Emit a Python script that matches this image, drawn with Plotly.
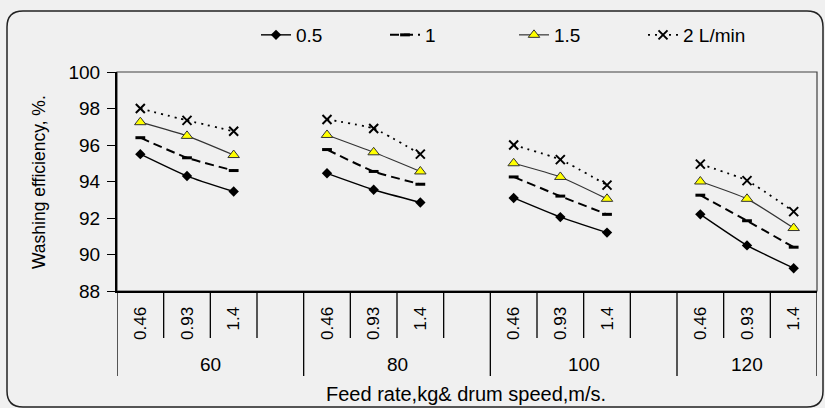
import plotly.graph_objects as go

# ---- data ----
feed_rates = ["60", "80", "100", "120"]
drum_speeds = ["0.46", "0.93", "1.4"]
series_names = ["0.5", "1", "1.5", "2 L/min"]
eff_05 = [95.5, 94.3, 93.45, 94.45, 93.55, 92.85, 93.1, 92.05, 91.2, 92.2, 90.5, 89.25]
eff_10 = [96.4, 95.3, 94.6, 95.75, 94.55, 93.85, 94.25, 93.2, 92.2, 93.25, 91.85, 90.4]
eff_15 = [97.25, 96.5, 95.45, 96.55, 95.6, 94.55, 95.0, 94.25, 93.05, 94.0, 93.05, 91.45]
eff_20 = [98.0, 97.35, 96.75, 97.4, 96.9, 95.5, 96.0, 95.2, 93.8, 94.95, 94.05, 92.35]

# ---- layout helpers ----
W, H = 825, 408
L, R, T, B = 117, 817, 72, 291
slot = len(drum_speeds) + 1
n_slots = len(feed_rates) * slot - 1

def px(x):
    return (x - L) / (R - L)

def py(y):
    return (B - y) / (B - T)

def build(vals):
    xs, ys = [], []
    for gi in range(len(feed_rates)):
        for si in range(len(drum_speeds)):
            xs.append(gi * slot + si)
            ys.append(vals[gi * len(drum_speeds) + si])
        xs.append(None)
        ys.append(None)
    return xs, ys

FONT = "Liberation Sans, Arial, sans-serif"
styles = [
    dict(line=dict(color="black", width=1.4, dash="solid", shape="spline", smoothing=0.5),
         marker=dict(symbol="diamond", size=8, color="black")),
    dict(line=dict(color="black", width=2, dash="9px,5px", shape="spline", smoothing=0.5),
         marker=dict(symbol="line-ew", size=7, color="black", line=dict(color="black", width=3))),
    dict(line=dict(color="#333333", width=1.2, dash="solid", shape="spline", smoothing=0.5),
         marker=dict(symbol="triangle-up", size=10, color="#ffff00", line=dict(color="#333333", width=1))),
    dict(line=dict(color="black", width=1.8, dash="2px,5px", shape="spline", smoothing=0.5),
         marker=dict(symbol="x-thin", size=9, color="black", line=dict(color="black", width=2))),
]

fig = go.Figure()
for name, vals, st in zip(series_names, [eff_05, eff_10, eff_15, eff_20], styles):
    xs, ys = build(vals)
    fig.add_trace(go.Scatter(x=xs, y=ys, mode="lines+markers", name=name,
                             connectgaps=False, line=st["line"], marker=st["marker"]))

tickvals, ticktext = [], []
for gi in range(len(feed_rates)):
    for si, s in enumerate(drum_speeds):
        tickvals.append(gi * slot + si)
        ticktext.append(s)

shapes = []
# separators below x axis
for k in range(n_slots + 1):
    xb = k - 0.5
    is_group = (k % slot == 0) or k == n_slots
    shapes.append(dict(type="line", xref="x", yref="paper", x0=xb, x1=xb,
                       y0=0, y1=py(376) if is_group else py(338),
                       line=dict(color="black", width=1.3)))
# plot frame (top/right)
shapes.append(dict(type="rect", xref="paper", yref="paper", x0=0, x1=1, y0=0, y1=1,
                   line=dict(color="#404040", width=1.2), layer="below"))
# outer rounded chart border
x0, x1, y0, y1, r = 7, 823, 11, 407, 16
path = (f"M {px(x0+r)},{py(y0)} L {px(x1-r)},{py(y0)} Q {px(x1)},{py(y0)} {px(x1)},{py(y0+r)} "
        f"L {px(x1)},{py(y1-r)} Q {px(x1)},{py(y1)} {px(x1-r)},{py(y1)} "
        f"L {px(x0+r)},{py(y1)} Q {px(x0)},{py(y1)} {px(x0)},{py(y1-r)} "
        f"L {px(x0)},{py(y0+r)} Q {px(x0)},{py(y0)} {px(x0+r)},{py(y0)} Z")
shapes.append(dict(type="path", xref="paper", yref="paper", path=path,
                   line=dict(color="#222222", width=1.5)))

annotations = []
for gi, g in enumerate(feed_rates):
    start = gi * slot - 0.5
    end = min(gi * slot + slot - 0.5, n_slots - 0.5)
    annotations.append(dict(x=(start + end) / 2, y=py(364), xref="x", yref="paper",
                            text=g, showarrow=False, font=dict(size=19, color="black"),
                            xanchor="center", yanchor="middle"))
annotations.append(dict(x=px(466), y=py(394), xref="paper", yref="paper",
                        text="Feed rate,kg& drum speed,m/s.", showarrow=False,
                        font=dict(size=20, color="black"), xanchor="center", yanchor="middle"))
annotations.append(dict(x=px(39), y=py(182), xref="paper", yref="paper",
                        text="Washing efficiency, %.", showarrow=False, textangle=-90,
                        font=dict(size=17.5, color="black"), xanchor="center", yanchor="middle"))

fig.update_layout(
    width=W, height=H,
    margin=dict(l=L, r=W - R, t=T, b=H - B, pad=0),
    paper_bgcolor="#f0f0f0", plot_bgcolor="#f0f0f0",
    font=dict(family=FONT, size=17, color="black"),
    showlegend=True,
    legend=dict(orientation="h", x=px(514), y=py(35), xanchor="center", yanchor="middle",
                bgcolor="rgba(0,0,0,0)", font=dict(size=19), entrywidth=84,
                entrywidthmode="pixels", tracegroupgap=0),
    shapes=shapes, annotations=annotations,
)
fig.update_xaxes(range=[-0.5, n_slots - 0.5], tickmode="array", tickvals=tickvals,
                 ticktext=ticktext, tickangle=-90, ticks="", showgrid=False, zeroline=False,
                 showline=True, linecolor="black", linewidth=2, ticklabelstandoff=7,
                 tickfont=dict(size=17))
fig.update_yaxes(range=[88, 100], dtick=2, tick0=88, ticks="outside", ticklen=8,
                 tickcolor="black", tickwidth=1, showgrid=False, zeroline=False,
                 showline=True, linecolor="black", linewidth=2, tickfont=dict(size=19),
                 ticklabelstandoff=3)

fig.write_html("out.html", config={"displayModeBar": False},
               post_script="document.body.style.margin='0';document.body.style.overflow='hidden';")
